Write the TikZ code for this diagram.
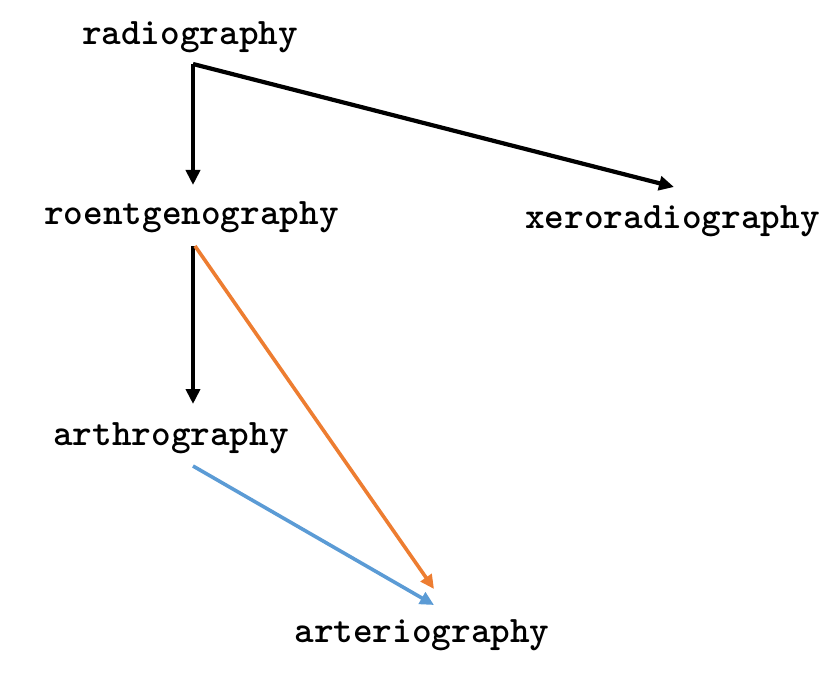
\documentclass[tikz,border=0pt]{standalone}
\usetikzlibrary{arrows.meta}
\definecolor{edgeorange}{HTML}{ED7D31}
\definecolor{edgeblue}{HTML}{5B9BD5}
\begin{document}
\begin{tikzpicture}[x=0.5pt,y=-0.5pt,
  term/.style={inner sep=0pt, anchor=base, font=\ttfamily\bfseries\fontsize{18.7}{22}\selectfont},
  blackedge/.style={draw=black, line width=2.1pt, -{Triangle[length=7.5pt,width=7pt]}},
  orangeedge/.style={draw=edgeorange, line width=1.8pt, -{Triangle[length=7pt,width=6.5pt]}},
  blueedge/.style={draw=edgeblue, line width=1.8pt, -{Triangle[length=7pt,width=6.5pt]}}]
\useasboundingbox (0,0) rectangle (840,700);
\node[term] (radio) at (190,45) {radiography};
\node[term] (roent) at (191.5,225) {roentgenography};
\node[term] (xero) at (672.5,228) {xeroradiography};
\node[term] (arthro) at (171,445) {arthrography};
\node[term] (arter) at (422,642) {arteriography};
% connector ends
\coordinate (radioOut) at (193,64);
\coordinate (roentIn) at (193,185);
\coordinate (xeroIn) at (674,187);
\coordinate (roentOut) at (193,246);
\coordinate (roentOutB) at (195,246);
\coordinate (arthroIn) at (193,404);
\coordinate (arthroOut) at (193,466);
\coordinate (arterInA) at (434,589);
\coordinate (arterInB) at (434,605);
\draw[blackedge] (radioOut) -- (roentIn);
\draw[blackedge, line join=miter] (radioOut) -- (xeroIn);
\draw[blackedge] (roentOut) -- (arthroIn);
\draw[orangeedge] (roentOutB) -- (arterInA);
\draw[blueedge] (arthroOut) -- (arterInB);
\end{tikzpicture}
\end{document}
